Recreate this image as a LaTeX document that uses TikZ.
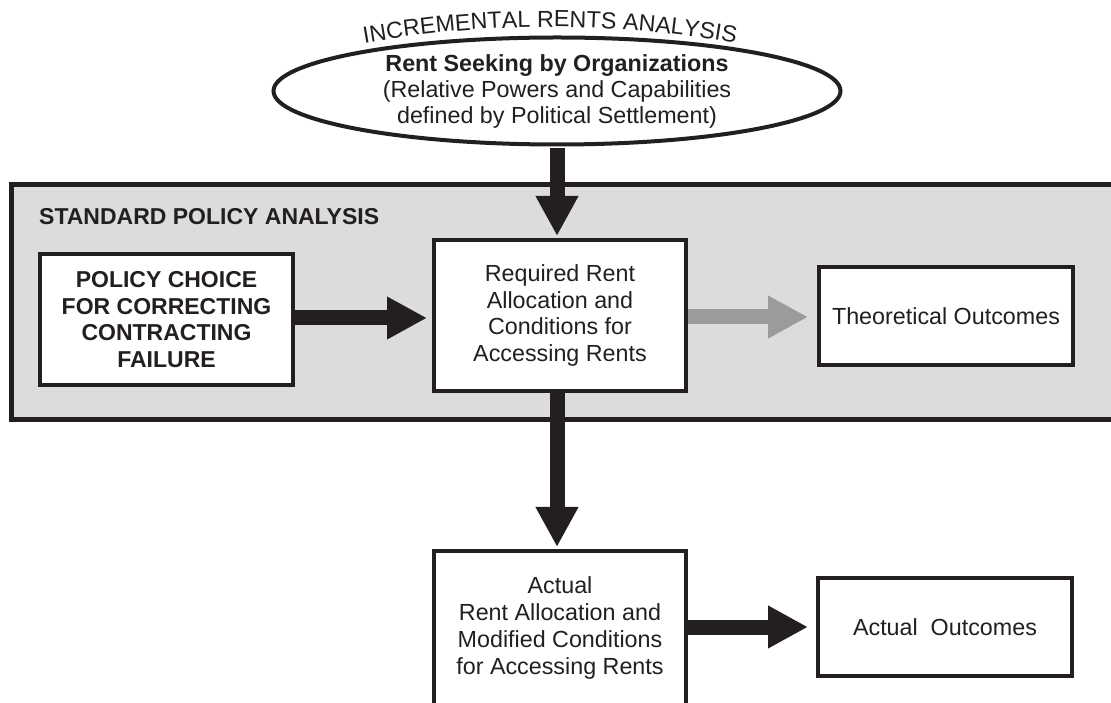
\documentclass[tikz,border=0pt]{standalone}
\usepackage{fontspec}
\setmainfont{Liberation Sans}
\usetikzlibrary{arrows.meta,shapes.geometric,decorations.text,calc}
\definecolor{ink}{HTML}{231F20}
\definecolor{panelgrey}{HTML}{DCDCDB}
\definecolor{arrowgrey}{HTML}{9B9B9B}
\begin{document}
\begin{tikzpicture}[x=1pt,y=1pt,
  box/.style={draw=ink, line width=4pt, fill=white, inner sep=0pt, outer sep=0pt,
    align=center, text=ink, font=\fontsize{23.3}{26.7}\selectfont},
  boldbox/.style={box, font=\fontsize{23}{26.5}\selectfont\bfseries},
  fat/.style={draw=ink, line width=15pt, line cap=butt, shorten <=2pt,
    -{Triangle[length=40pt,width=40pt]}},
  fatgrey/.style={fat, draw=arrowgrey},
  panel/.style={draw=ink, line width=5pt, fill=panelgrey},
]
\useasboundingbox (0,0) rectangle (1111,702);
\clip (0,0) rectangle (1111,702);

% grey frame of the standard policy analysis
\draw[panel] (11.5,282.5) rectangle (1135,517.5);
\node[anchor=west, font=\fontsize{23}{23}\selectfont\bfseries, text=ink, inner sep=0pt]
  (std) at (39,485) {STANDARD POLICY ANALYSIS};

% rent seeking ellipse with its arched title
\node[ellipse, draw=ink, line width=4pt, fill=white, minimum width=567pt,
  minimum height=107pt, inner sep=0pt, align=center, text=ink,
  font=\fontsize{23.3}{26}\selectfont] (seek) at (557,611)
  {\textbf{Rent Seeking by Organizations}\\(Relative Powers and Capabilities\\defined by Political Settlement)};
\path[decorate, decoration={text along path, text align=center,
  text={|\fontsize{23.3}{23.3}\selectfont\color{ink}|INCREMENTAL RENTS ANALYSIS}}]
  (362.7,658.5) arc[start angle=100.1, end angle=79.9, radius=1068];

% boxes
\node[boldbox, minimum width=253pt, minimum height=131pt] (policy) at (166.5,382.5)
  {POLICY CHOICE\\FOR CORRECTING\\CONTRACTING\\FAILURE};
\node[box, minimum width=252pt, minimum height=151pt] (req) at (560,386.5)
  {Required Rent\\Allocation and\\Conditions for\\Accessing Rents};
\node[box, minimum width=254pt, minimum height=98pt] (theo) at (946,386)
  {Theoretical Outcomes};
\node[box, minimum width=252pt, minimum height=154pt] (act) at (560,74)
  {Actual\\Rent Allocation and\\Modified Conditions\\for Accessing Rents};
\node[box, minimum width=254pt, minimum height=98pt] (actout) at (945,75)
  {Actual~ Outcomes};

% arrow lanes
\coordinate (laneA) at (0,384);
\coordinate (laneB) at (0,385);
\coordinate (laneC) at (0,75);

% connectors
\draw[fat, shorten >=4pt] (seek.south) -- (seek.south |- req.north);
\draw[fat, shorten >=4pt] (req.south -| seek.south) -- (act.north -| seek.south);
\draw[fat, shorten >=7pt] (policy.east |- laneA) -- (req.west |- laneA);
\draw[fatgrey, shorten >=11pt] (req.east |- laneB) -- (theo.west |- laneB);
\draw[fat, shorten >=10pt] (act.east |- laneC) -- (actout.west |- laneC);
\end{tikzpicture}
\end{document}
